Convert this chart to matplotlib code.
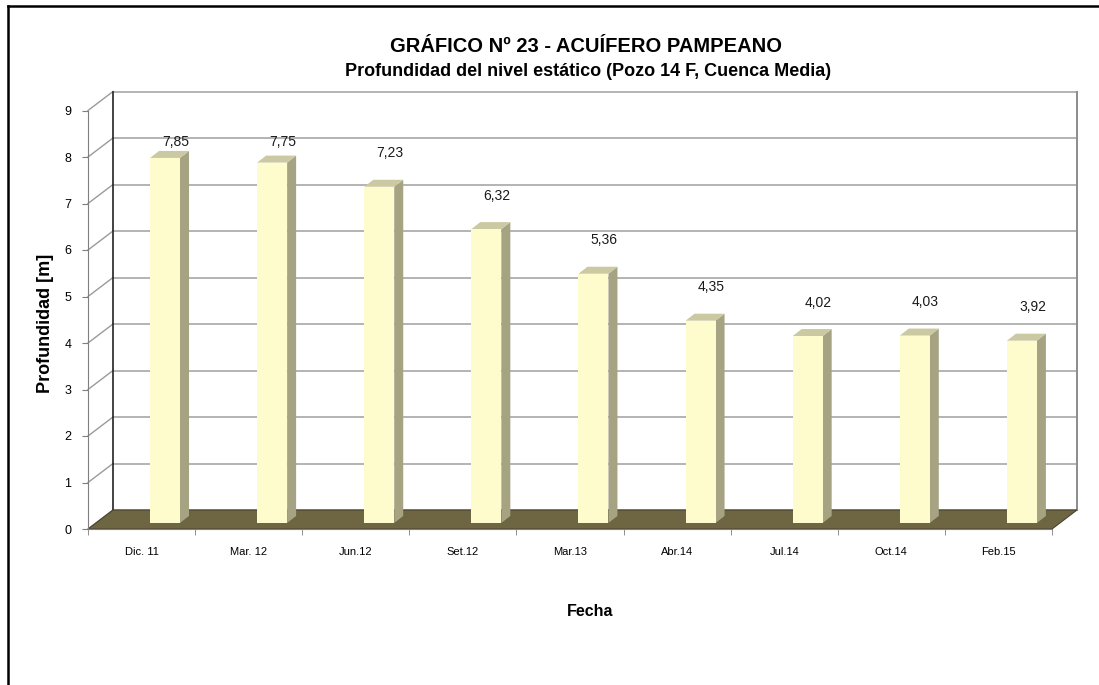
# Pseudo-3D column chart: static water level depth, Pozo 14 F
import numpy as np
import matplotlib.pyplot as plt
from matplotlib.patches import Polygon
from matplotlib.lines import Line2D

# Data
fechas = ["Dic. 11", "Mar. 12", "Jun.12", "Set.12", "Mar.13",
          "Abr.14", "Jul.14", "Oct.14", "Feb.15"]
profundidad = [7.85, 7.75, 7.23, 6.32, 5.36, 4.35, 4.02, 4.03, 3.92]
etiquetas = ["7,85", "7,75", "7,23", "6,32", "5,36", "4,35", "4,02", "4,03", "3,92"]
y_ticks = list(range(0, 10))

narrow = ["Liberation Sans Narrow", "Liberation Sans", "DejaVu Sans"]
plt.rcParams["font.family"] = narrow

# Depth of the "3D" box and of the bars, in data units
DX, DY = 0.2334, 0.4086
BAR_DX, BAR_DY = 0.084, 0.15
BAR_OFF, BAR_W, BAR_BASE = 0.219, 0.28, 0.13

fig = plt.figure(figsize=(10.99, 6.85), dpi=100)
ax = fig.add_axes([88 / 1099, (685 - 529) / 685, 964 / 1099, 418.5 / 685])
ax.set_xlim(-0.5, 8.5)
ax.set_ylim(0, 9)
ax.patch.set_visible(False)

x = np.arange(len(fechas))
grid_c = "#b3b3b3"

# Back wall gridlines and left wall diagonals
for k in y_ticks:
    ax.plot([-0.5 + DX, 8.5 + DX], [k + DY, k + DY], color=grid_c, lw=1.4,
            clip_on=False, zorder=1)
    ax.plot([-0.5, -0.5 + DX], [k, k + DY], color="#9a9a9a", lw=1.0,
            clip_on=False, zorder=1)
ax.plot([-0.5 + DX] * 2, [DY, 9 + DY], color="#222222", lw=1.2, clip_on=False, zorder=1)
ax.plot([8.5 + DX] * 2, [DY, 9 + DY], color="#8c8c8c", lw=1.4, clip_on=False, zorder=1)

# Floor
floor = Polygon([(-0.5, 0), (8.5, 0), (8.5 + DX, DY), (-0.5 + DX, DY)],
                closed=True, facecolor="#6e6542", edgecolor="#4a4430", lw=0.8,
                clip_on=False, zorder=2)
ax.add_patch(floor)

# Bars: front faces through ax.bar, side and top faces from the same rectangles
bars = ax.bar(x + BAR_OFF, profundidad, width=BAR_W, bottom=BAR_BASE,
              color="#fefccd", edgecolor="none", zorder=4)
for rect in bars:
    x0, y0 = rect.get_x(), rect.get_y()
    w, h = rect.get_width(), rect.get_height()
    x1, y1 = x0 + w, y0 + h
    side = Polygon([(x1, y0), (x1 + BAR_DX, y0 + BAR_DY), (x1 + BAR_DX, y1 + BAR_DY), (x1, y1)],
                   closed=True, facecolor="#a5a382", edgecolor="none", zorder=3)
    top = Polygon([(x0, y1), (x0 + BAR_DX, y1 + BAR_DY), (x1 + BAR_DX, y1 + BAR_DY), (x1, y1)],
                  closed=True, facecolor="#cbc9a2", edgecolor="none", zorder=3)
    ax.add_patch(side)
    ax.add_patch(top)

# Value labels
for xi, v, lab in zip(x, profundidad, etiquetas):
    ly = min(v + BAR_BASE + 0.72, 8.32)
    ax.text(xi + BAR_OFF + 0.1, ly, lab, ha="center", va="center",
            fontsize=10, color="#1a1a1a", zorder=5)

# Axes styling
for s in ["top", "right"]:
    ax.spines[s].set_visible(False)
ax.spines["left"].set_color("#7f7f7f")
ax.spines["bottom"].set_color("#7f7f7f")
ax.spines["left"].set_zorder(6)
ax.set_yticks(y_ticks)
ax.tick_params(axis="y", length=4, color="#7f7f7f", labelsize=9, pad=8)
ax.set_xticks(x)
ax.set_xticklabels(fechas, fontsize=8, family=["Liberation Sans", "DejaVu Sans"])
ax.set_xticks(np.arange(-0.5, 9, 1), minor=True)
ax.tick_params(axis="x", which="major", length=0, pad=13)
ax.tick_params(axis="x", which="minor", length=4, color="#7f7f7f")

fig.text(586 / 1099, 1 - 46 / 685, "GRÁFICO Nº 23 - ACUÍFERO PAMPEANO",
         ha="center", va="center", fontsize=14.5, fontweight="bold")
fig.text(588 / 1099, 1 - 72 / 685, "Profundidad del nivel estático (Pozo 14 F, Cuenca Media)",
         ha="center", va="center", fontsize=13, fontweight="bold")
fig.text(590 / 1099, 1 - 612 / 685, "Fecha", ha="center", va="center",
         fontsize=11.5, fontweight="bold")
fig.text(45 / 1099, 1 - 323 / 685, "Profundidad [m]", ha="center", va="center",
         rotation=90, fontsize=13, fontweight="bold")

# Outer frame (top and left edges are visible in the reference)
fig.add_artist(Line2D([8 / 1099, 1], [1 - 6 / 685] * 2, color="black", lw=1.8))
fig.add_artist(Line2D([8 / 1099] * 2, [0, 1 - 6 / 685], color="black", lw=1.8))

fig.savefig("out.png", dpi=100)
